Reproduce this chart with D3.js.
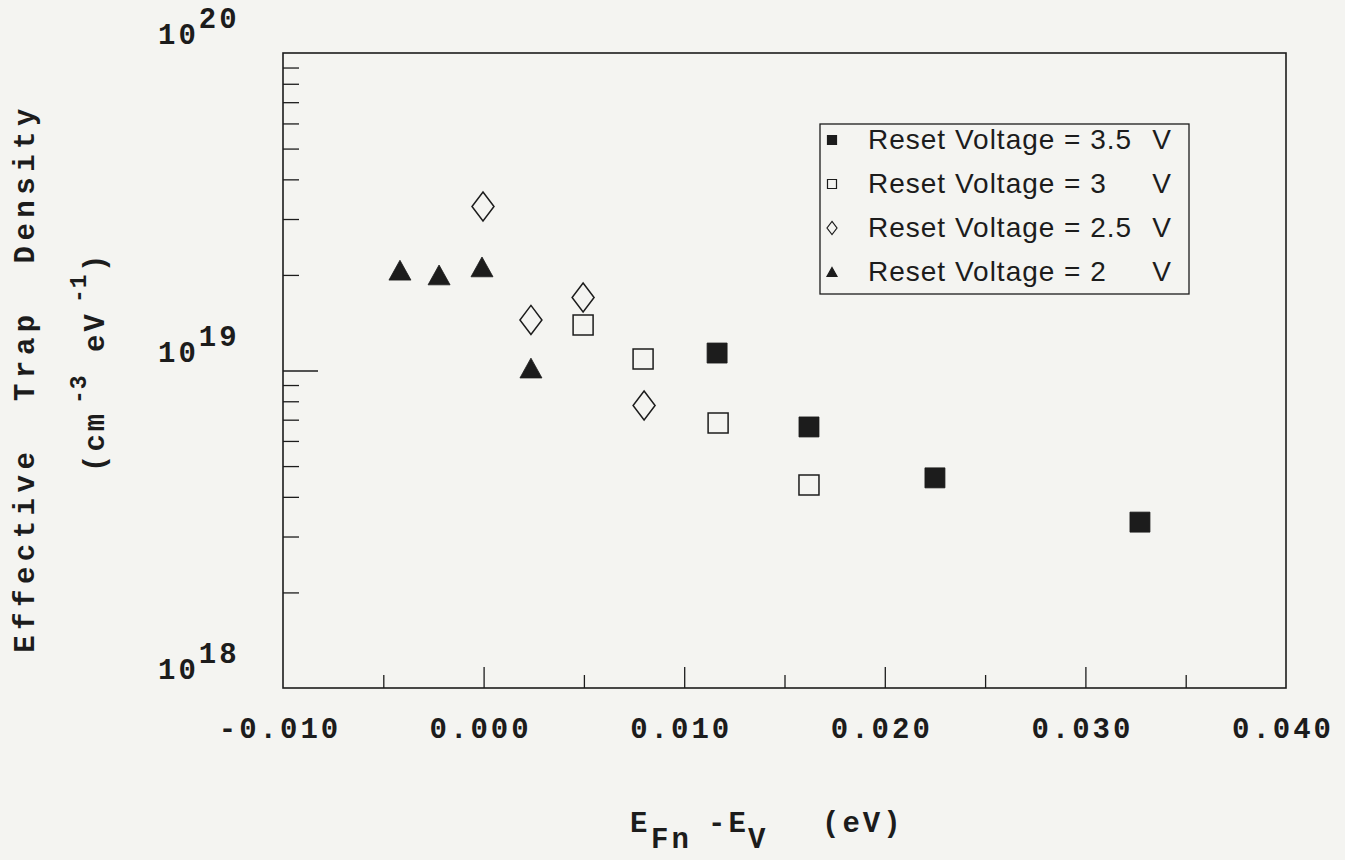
<!DOCTYPE html>
<html>
<head>
<meta charset="utf-8">
<script src="https://cdn.jsdelivr.net/npm/d3@7"></script>
<style>
    body { margin: 0; background: #f4f4f1; }
    svg { display: block; }
</style>
</head>
<body>
<div id="chart"></div>
<script>
// values
const reset35X = [0.01164, 0.01622, 0.02250, 0.03272];
const reset35Y = [1.135e19, 6.64e18, 4.59e18, 3.33e18];

const reset30X = [0.00496, 0.00795, 0.01169, 0.01622];
const reset30Y = [1.391e19, 1.087e19, 6.83e18, 4.36e18];

const reset25X = [-0.00003, 0.00236, 0.00496, 0.00800];
const reset25Y = [3.285e19, 1.443e19, 1.698e19, 7.76e18];

const reset20X = [-0.00417, -0.00222, -0.00008, 0.00236];
const reset20Y = [2.07e19, 2.00e19, 2.12e19, 1.018e19];

const legendLabels = ["Reset Voltage = 3.5", "Reset Voltage = 3", "Reset Voltage = 2.5", "Reset Voltage = 2"];
const legendUnit = "V";
const markerKinds = ["filledSquare", "openSquare", "diamond", "triangle"];

const xMajorTicks = [-0.010, 0.000, 0.010, 0.020, 0.030, 0.040];
const xMajorLabels = ["-0.010", "0.000", "0.010", "0.020", "0.030", "0.040"];
const xMinorTicks = [-0.005, 0.005, 0.015, 0.025, 0.035];

const yDecades = [1e18, 1e19, 1e20];
const yDecadeExp = ["18", "19", "20"];
const yMinorTicks = [2e18, 3e18, 4e18, 5e18, 6e18, 7e18, 8e18, 9e18,
                     2e19, 3e19, 4e19, 5e19, 6e19, 7e19, 8e19, 9e19];

const W = 1345, H = 860;
const ink = "#1c1c1c";
const mono = "'Liberation Mono', 'Courier New', monospace";
const sans = "'Liberation Sans', Arial, sans-serif";

const svg = d3.select("#chart").append("svg")
    .attr("width", W)
    .attr("height", H)
    .style("background", "#f4f4f1");

const x = d3.scaleLinear().domain([-0.010, 0.040]).range([283, 1286]);
const y = d3.scaleLog().domain([1e18, 1e20]).range([688, 53]);

// plot frame
svg.append("rect")
    .attr("x", x(-0.010))
    .attr("y", y(1e20))
    .attr("width", x(0.040) - x(-0.010))
    .attr("height", y(1e18) - y(1e20))
    .attr("fill", "none")
    .attr("stroke", ink)
    .attr("stroke-width", 1.6);

// x ticks point inward (up)
function xTickGroup(values, len) {
    const g = svg.append("g")
        .attr("transform", `translate(0,${y(1e18)})`)
        .call(d3.axisTop(x).tickValues(values).tickSize(len).tickFormat(""));
    g.select(".domain").remove();
    g.selectAll("line").attr("stroke", ink).attr("stroke-width", 1.3);
}
xTickGroup(xMajorTicks.slice(1, -1), 21);
xTickGroup(xMinorTicks, 13);

svg.append("g").selectAll("text")
    .data(xMajorTicks)
    .join("text")
    .attr("x", d => x(d) - 3)
    .attr("y", 738)
    .attr("text-anchor", "middle")
    .attr("font-family", mono)
    .attr("font-weight", "bold")
    .attr("font-size", 29)
    .attr("letter-spacing", 3)
    .attr("fill", ink)
    .text((d, i) => xMajorLabels[i]);

// y ticks point inward (right)
function yTickGroup(values, len) {
    const g = svg.append("g")
        .attr("transform", `translate(${x(-0.010)},0)`)
        .call(d3.axisRight(y).tickValues(values).tickSize(len).tickFormat(""));
    g.select(".domain").remove();
    g.selectAll("line").attr("stroke", ink).attr("stroke-width", 1.3);
}
yTickGroup(yMinorTicks, 16);
yTickGroup([1e19], 35);

const yLab = svg.append("g").selectAll("text")
    .data(yDecades)
    .join("text")
    .attr("x", 158)
    .attr("y", d => y(d) - 9)
    .attr("font-family", mono)
    .attr("font-weight", "bold")
    .attr("font-size", 29)
    .attr("letter-spacing", 3)
    .attr("fill", ink);
yLab.append("tspan").text("10");
yLab.append("tspan")
    .attr("dy", -16)
    .text((d, i) => yDecadeExp[i]);

// markers, s = full width
function markerPath(kind, s) {
    if (kind === "diamond") {
        const w = s * 0.5, h = s * 0.66;
        return `M0,${-h}L${w},0L0,${h}L${-w},0Z`;
    }
    if (kind === "triangle") {
        const w = s * 0.5, h = s * 0.45;
        return `M0,${-h}L${w},${h}L${-w},${h}Z`;
    }
    const a = s / 2;
    return `M${-a},${-a}H${a}V${a}H${-a}Z`;
}

const seriesData = [
    {kind: "filledSquare", xs: reset35X, ys: reset35Y},
    {kind: "openSquare", xs: reset30X, ys: reset30Y},
    {kind: "diamond", xs: reset25X, ys: reset25Y},
    {kind: "triangle", xs: reset20X, ys: reset20Y}
];

seriesData.forEach(s => {
    const pts = s.xs.map((v, i) => ({x: v, y: s.ys[i]}));
    const open = s.kind === "openSquare" || s.kind === "diamond";
    svg.append("g").selectAll("path")
        .data(pts)
        .join("path")
        .attr("transform", d => `translate(${x(d.x)},${y(d.y)})`)
        .attr("d", markerPath(s.kind, s.kind === "openSquare" || s.kind === "filledSquare" ? 20 : 22))
        .attr("fill", open ? "none" : ink)
        .attr("stroke", ink)
        .attr("stroke-width", open ? 1.5 : 0.8);
});

// legend
const legend = svg.append("g");
legend.append("rect")
    .attr("x", 820)
    .attr("y", 124)
    .attr("width", 369)
    .attr("height", 170)
    .attr("fill", "none")
    .attr("stroke", ink)
    .attr("stroke-width", 1.3);

const rows = legend.selectAll("g.row")
    .data(legendLabels)
    .join("g")
    .attr("class", "row")
    .attr("transform", (d, i) => `translate(0,${149 + i * 44})`);

rows.append("path")
    .attr("transform", "translate(832,-9)")
    .attr("d", (d, i) => markerPath(markerKinds[i], markerKinds[i].includes("Square") ? 9 : 10))
    .attr("fill", (d, i) => (markerKinds[i] === "openSquare" || markerKinds[i] === "diamond") ? "none" : ink)
    .attr("stroke", ink)
    .attr("stroke-width", 1.2);

rows.append("text")
    .attr("x", 868)
    .attr("font-family", sans)
    .attr("font-size", 28)
    .attr("letter-spacing", 1)
    .attr("fill", ink)
    .text(d => d);

rows.append("text")
    .attr("x", 1171)
    .attr("text-anchor", "end")
    .attr("font-family", sans)
    .attr("font-size", 28)
    .attr("fill", ink)
    .text(legendUnit);

// axis titles
const titleStyle = t => t
    .attr("font-family", mono)
    .attr("font-weight", "bold")
    .attr("font-size", 29)
    .attr("letter-spacing", 3)
    .attr("fill", ink);

svg.append("text")
    .attr("transform", "translate(34,378) rotate(-90)")
    .attr("text-anchor", "middle")
    .style("white-space", "pre")
    .call(titleStyle)
    .attr("letter-spacing", 5.5)
    .text("Effective  Trap  Density");

// second line of the y title, rotated so x = -pageY
const unitT = svg.append("text")
    .attr("transform", "translate(104,0) rotate(-90)")
    .style("white-space", "pre")
    .call(titleStyle);
unitT.append("tspan").attr("x", -472).text("(cm");
unitT.append("tspan").attr("x", -404).attr("dy", -18).attr("font-size", 23).attr("letter-spacing", 1).text("-3");
unitT.append("tspan").attr("x", -352).attr("dy", 18).text("eV");
unitT.append("tspan").attr("x", -303).attr("dy", -18).attr("font-size", 23).attr("letter-spacing", 1).text("-1");
unitT.append("tspan").attr("x", -272).attr("dy", 18).text(")");

const xt = svg.append("text")
    .attr("y", 832)
    .style("white-space", "pre")
    .call(titleStyle);
xt.append("tspan").attr("x", 630).text("E");
xt.append("tspan").attr("x", 651).attr("dy", 16).text("Fn");
xt.append("tspan").attr("x", 708).attr("dy", -16).text("-E");
xt.append("tspan").attr("x", 748).attr("dy", 16).text("V");
xt.append("tspan").attr("x", 822).attr("dy", -16).text("(eV)");
</script>
</body>
</html>
